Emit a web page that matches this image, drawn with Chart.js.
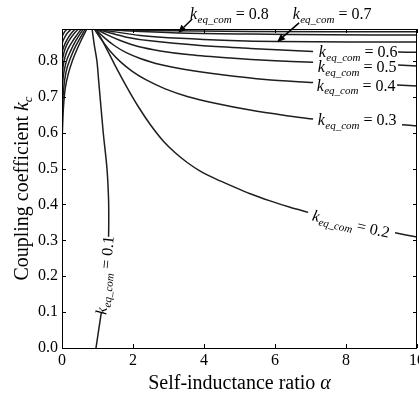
<!DOCTYPE html>
<html><head><meta charset="utf-8">
<script src="https://cdn.jsdelivr.net/npm/chart.js@4.4.0/dist/chart.umd.min.js"></script>
<style>html,body{margin:0;padding:0;background:#fff;}#wrap{width:419px;height:396px;}</style>
</head><body><div id="wrap"><canvas id="c" width="419" height="396"></canvas></div>
<script>
// ---- axes ----
const xTicks = [0, 2, 4, 6, 8, 10];
const yTicks = [0.0, 0.1, 0.2, 0.3, 0.4, 0.5, 0.6, 0.7, 0.8];
const alphaRange = [0, 10];
const kcRange = [0, 0.889];

// ---- contour lines [alpha, k_c] (null = label gap) ----
const keq01 = [[0.847,0.889],[0.909,0.845],[0.985,0.799],[1.030,0.748],[1.162,0.600],[1.267,0.500],[1.312,0.413],[1.317,0.351],[1.312,0.310],null,[1.106,0.098],[0.957,0.0]];
const keq02 = [[0.951,0.889],[1.162,0.852],[1.472,0.792],[1.810,0.730],[2.147,0.673],[2.485,0.623],[2.851,0.577],[3.189,0.544],[3.527,0.517],[3.893,0.493],[4.315,0.472],[4.794,0.451],[5.300,0.430],[5.863,0.410],[6.426,0.392],[6.933,0.378],null,[9.381,0.321],[10.0,0.309]];
const keq03 = [[0.909,0.889],[1.106,0.860],[1.359,0.827],[1.641,0.798],[1.979,0.771],[2.373,0.747],[2.907,0.722],[3.527,0.701],[4.315,0.682],[5.300,0.663],[6.285,0.648],[7.073,0.638],null,[9.578,0.622],[10.0,0.619]];
const keq04 = [[0.937,0.889],[1.191,0.865],[1.472,0.843],[1.810,0.823],[2.204,0.807],[2.767,0.790],[3.471,0.776],[4.456,0.762],[5.722,0.748],[7.073,0.740],null,[9.437,0.733],[10.0,0.730]];
const keq05 = [[0.965,0.889],[1.247,0.874],[1.641,0.857],[2.148,0.840],[2.767,0.828],[3.611,0.817],[4.737,0.808],[5.863,0.801],[7.073,0.796],null,[9.465,0.789],[10.0,0.786]];
const keq06 = [[0.994,0.889],[1.359,0.878],[1.782,0.867],[2.485,0.856],[3.893,0.843],[5.300,0.835],[7.073,0.826],null,[9.465,0.825],[10.0,0.824]];
const keq07 = [[1.022,0.889],[1.500,0.881],[2.204,0.871],[3.330,0.863],[4.737,0.857],[6.060,0.854],[8.114,0.853],[10.0,0.853]];
const keq08 = [[1.050,0.889],[1.782,0.884],[3.273,0.878],[5.300,0.875],[7.551,0.873],[10.0,0.872]];
const keq09 = [[1.078,0.889],[2.485,0.885],[5.300,0.882],[10.0,0.881]];
// left-hand family
const left1 = [[0.698,0.889],[0.571,0.864],[0.431,0.834],[0.290,0.800],[0.177,0.764],[0.093,0.725],[0.045,0.677],[0.020,0.627],[0.0,0.571]];
const left2 = [[0.656,0.889],[0.529,0.867],[0.388,0.842],[0.262,0.814],[0.149,0.783],[0.079,0.750],[0.037,0.711],[0.014,0.677],[0.0,0.658]];
const left3 = [[0.600,0.889],[0.473,0.870],[0.346,0.849],[0.234,0.826],[0.135,0.803],[0.065,0.775],[0.025,0.747],[0.0,0.714]];
const left4 = [[0.543,0.889],[0.417,0.872],[0.290,0.854],[0.177,0.835],[0.093,0.814],[0.037,0.789],[0.0,0.755]];
const left5 = [[0.459,0.889],[0.332,0.875],[0.220,0.860],[0.121,0.842],[0.051,0.822],[0.014,0.803],[0.0,0.792]];
const left6 = [[0.374,0.889],[0.262,0.877],[0.163,0.863],[0.079,0.847],[0.028,0.833],[0.0,0.822]];
const left7 = [[0.262,0.889],[0.163,0.879],[0.087,0.868],[0.031,0.857],[0.0,0.847]];
const left8 = [[0.149,0.889],[0.079,0.882],[0.031,0.874],[0.0,0.867]];

const curves = [keq01,keq02,keq03,keq04,keq05,keq06,keq07,keq08,keq09,left1,left2,left3,left4,left5,left6,left7,left8];

// ---- contour labels ----
const labelLevels = ['0.8','0.7','0.6','0.5','0.4','0.3','0.2','0.1'];
const labelAlpha  = [4.714, 7.607, 8.340, 8.312, 8.283, 8.312, 8.142, 1.205];
const labelKc     = [0.931, 0.931, 0.825, 0.783, 0.732, 0.636, 0.346, 0.203];
const labelAngle  = [0, 0, 0, 0, 0, 0, 13.0, -84.5];
const arrowFrom = [[3.667,0.917],[6.679,0.906]];
const arrowTo   = [[3.273,0.878],[6.060,0.853]];

const SERIF = '"Liberation Serif","Times New Roman",serif';
const AREA = {left: 62, right: 417, top: 29, bottom: 348};

function drawContourLabel(ctx, cx, cy, ang, level){
  ctx.save();
  ctx.translate(cx, cy);
  ctx.rotate(ang*Math.PI/180);
  ctx.fillStyle = '#000';
  ctx.textBaseline = 'alphabetic';
  ctx.textAlign = 'left';
  const fK = 'italic 16px '+SERIF, fS = 'italic 11px '+SERIF, fM = '16px '+SERIF;
  ctx.font = fK; const wk = ctx.measureText('k').width;
  ctx.font = fS; const ws = ctx.measureText('eq_com').width;
  ctx.font = fM; const wm = ctx.measureText(' = '+level).width;
  const w = wk + 0.5 + ws + wm;
  let x = -w/2; const base = 5.3;
  ctx.font = fK; ctx.fillText('k', x, base); x += wk + 0.5;
  ctx.font = fS; ctx.fillText('eq_com', x, base + 3.5); x += ws;
  ctx.font = fM; ctx.fillText(' = '+level, x, base);
  ctx.restore();
}

function drawArrow(ctx, x0, y0, x1, y1){
  ctx.save();
  ctx.strokeStyle = '#000'; ctx.fillStyle = '#000'; ctx.lineWidth = 1.5;
  const a = Math.atan2(y1-y0, x1-x0), L = 8, W = 3.5;
  const bx = x1 - L*Math.cos(a), by = y1 - L*Math.sin(a);
  ctx.beginPath(); ctx.moveTo(x0,y0); ctx.lineTo(bx,by); ctx.stroke();
  ctx.beginPath();
  ctx.moveTo(x1,y1);
  ctx.lineTo(bx + W*Math.sin(a), by - W*Math.cos(a));
  ctx.lineTo(bx - W*Math.sin(a), by + W*Math.cos(a));
  ctx.closePath(); ctx.fill();
  ctx.restore();
}

const decor = {
  id: 'decor',
  afterDatasetsDraw(chart){
    const ctx = chart.ctx, xs = chart.scales.x, ys = chart.scales.y, a = chart.chartArea;
    ctx.save();
    ctx.strokeStyle = '#000'; ctx.lineWidth = 1;
    ctx.strokeRect(Math.round(a.left)+0.5, Math.round(a.top)+0.5, Math.round(a.right-a.left)-1, Math.round(a.bottom-a.top));
    const T = 4;
    ctx.beginPath();
    xTicks.forEach(v => {
      const px = Math.round(xs.getPixelForValue(v)) + 0.5;
      ctx.moveTo(px, a.bottom); ctx.lineTo(px, a.bottom - T);
      ctx.moveTo(px, a.top); ctx.lineTo(px, a.top + T);
    });
    yTicks.forEach(v => {
      const py = Math.round(ys.getPixelForValue(v)) + 0.5;
      ctx.moveTo(a.left, py); ctx.lineTo(a.left + T, py);
      ctx.moveTo(a.right, py); ctx.lineTo(a.right - T, py);
    });
    ctx.stroke();
    ctx.restore();
    labelLevels.forEach((lv, i) => {
      drawContourLabel(ctx, xs.getPixelForValue(labelAlpha[i]), ys.getPixelForValue(labelKc[i]), labelAngle[i], lv);
    });
    arrowFrom.forEach((f, i) => {
      drawArrow(ctx, xs.getPixelForValue(f[0]), ys.getPixelForValue(f[1]),
                     xs.getPixelForValue(arrowTo[i][0]), ys.getPixelForValue(arrowTo[i][1]));
    });
    ctx.save();
    ctx.fillStyle = '#000'; ctx.textBaseline = 'alphabetic';
    const t1 = 'Self-inductance ratio ';
    ctx.font = '20px '+SERIF; const w1 = ctx.measureText(t1).width;
    ctx.font = 'italic 20px '+SERIF; const w2 = ctx.measureText('\u03B1').width;
    const cxT = (a.left + a.right)/2;
    let x = cxT - (w1+w2)/2;
    ctx.font = '20px '+SERIF; ctx.fillText(t1, x, 389);
    ctx.font = 'italic 20px '+SERIF; ctx.fillText('\u03B1', x + w1, 389);
    ctx.translate(28, (a.top + a.bottom)/2);
    ctx.rotate(-Math.PI/2);
    const t2 = 'Coupling coefficient ';
    ctx.font = '20px '+SERIF; const v1 = ctx.measureText(t2).width;
    ctx.font = 'italic 20px '+SERIF; const v2 = ctx.measureText('k').width;
    ctx.font = 'italic 13px '+SERIF; const v3 = ctx.measureText('c').width;
    x = -(v1+v2+v3)/2;
    ctx.font = '20px '+SERIF; ctx.fillText(t2, x, 0);
    ctx.font = 'italic 20px '+SERIF; ctx.fillText('k', x+v1, 0);
    ctx.font = 'italic 13px '+SERIF; ctx.fillText('c', x+v1+v2, 4);
    ctx.restore();
  }
};

const datasets = curves.map(c => ({
  data: c.map(p => p ? {x: p[0], y: p[1]} : {x: null, y: null}),
  showLine: true, borderColor: '#1e1e1e', borderWidth: 1.5,
  pointRadius: 0, tension: 0.3, spanGaps: false, fill: false
}));

const chart = new Chart(document.getElementById('c'), {
  type: 'scatter',
  data: { datasets },
  options: {
    responsive: false, animation: false, devicePixelRatio: 1,
    layout: { autoPadding: false, padding: { left: 0, right: 2, top: 29, bottom: 0 } },
    plugins: { legend: { display: false }, tooltip: { enabled: false } },
    scales: {
      x: {
        type: 'linear', min: alphaRange[0], max: alphaRange[1],
        afterBuildTicks: s => { s.ticks = xTicks.map(v => ({value: v})); },
        afterFit: s => { s.height = 48; s.paddingLeft = 0; s.paddingRight = 0; },
        grid: { display: false, drawTicks: false },
        border: { display: false },
        ticks: { color: '#000', font: { family: SERIF, size: 16 }, padding: 3, maxRotation: 0, autoSkip: false,
                 callback: v => String(v) }
      },
      y: {
        type: 'linear', min: kcRange[0], max: kcRange[1],
        afterBuildTicks: s => { s.ticks = yTicks.map(v => ({value: v})); },
        afterFit: s => { s.width = 62; s.paddingTop = 0; s.paddingBottom = 0; },
        grid: { display: false, drawTicks: false },
        border: { display: false },
        ticks: { color: '#000', font: { family: SERIF, size: 16 }, padding: 4, autoSkip: false,
                 callback: v => Number(v).toFixed(1) }
      }
    }
  },
  plugins: [decor]
});
// pin the plot area to the reference frame
const ca = chart.chartArea;
const pad = chart.options.layout.padding;
pad.right += (ca.right - AREA.right);
pad.top += (AREA.top - ca.top);
pad.bottom += (ca.bottom - AREA.bottom);
pad.left += (AREA.left - ca.left);
chart.update();
</script></body></html>
